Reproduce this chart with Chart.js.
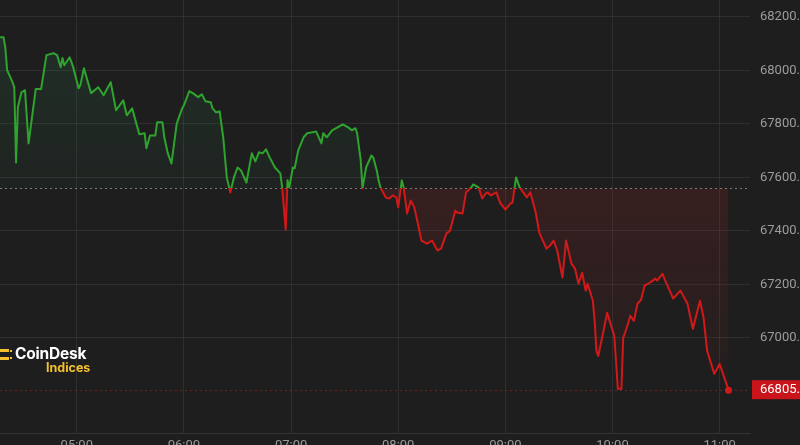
<!DOCTYPE html>
<html>
<head>
<meta charset="utf-8">
<script src="https://cdn.jsdelivr.net/npm/chart.js@4"></script>
<style>
  html, body { margin: 0; padding: 0; background: #1e1e1e; overflow: hidden; }
  #wrap { position: relative; width: 800px; height: 445px; }
  canvas { display: block; }
  .logo { position: absolute; left: 0; top: 344px; font-family: "Inter", "Liberation Sans", sans-serif; font-weight: 700; }
  .logo .icon { position: absolute; left: 0; top: 3px; width: 13px; height: 16px; }
  .logo .icon i { position: absolute; background: #f4c02f; display: block; }
  .logo .name { position: absolute; left: 15px; top: 0; color: #fff; font-size: 15.5px; letter-spacing: -0.2px; white-space: nowrap; }
  .logo .sub { position: absolute; left: 46px; top: 16px; color: #f4c02f; font-size: 12.5px; white-space: nowrap; }
</style>
</head>
<body>
<div id="wrap">
  <canvas id="chart" width="800" height="445"></canvas>
  <div class="logo">
    <div class="icon">
      <i style="left:0;top:2px;width:9px;height:3px"></i>
      <i style="left:0;top:10px;width:9px;height:3px"></i>
      <i style="left:10px;top:3px;width:2px;height:2px"></i>
      <i style="left:10px;top:10px;width:2px;height:2px"></i>
    </div>
    <div class="name">CoinDesk</div>
    <div class="sub">Indices</div>
  </div>
</div>
<script>
// minutes since midnight
const times = [
  257, 259, 260, 261, 264, 265, 266, 267, 269, 271, 273, 277, 280, 283, 287, 289,
  291, 292, 293, 296, 298, 301, 302, 304, 308, 312, 315, 319, 322, 326, 328, 331,
  335, 338, 339, 341, 344, 345, 348, 349, 351, 353, 356, 359, 360, 363, 365, 368,
  370, 372, 375, 376, 378, 380, 382, 384, 386, 388, 390, 392, 395, 398, 400, 402,
  404, 406, 408, 411, 414, 415, 417, 418, 419, 421, 422, 424, 427, 429, 432, 434,
  437, 438, 440, 443, 446, 449, 452, 454, 456, 457, 459, 460, 462, 465, 466, 468,
  469, 470, 473, 475, 477, 479, 480, 482, 483, 485, 487, 489, 491, 493, 496, 499,
  501, 502, 504, 507, 509, 512, 513, 516, 518, 521, 522, 525, 527, 529, 530, 532,
  535, 537, 540, 543, 544, 546, 548, 550, 552, 554, 557, 559, 563, 565, 567, 569,
  572, 574, 577, 579, 581, 583, 585, 586, 589, 590, 591, 592, 595, 597, 601, 603,
  605, 606, 608, 610, 612, 614, 616, 618, 621, 624, 625, 628, 630, 634, 638, 642,
  645, 649, 651, 653, 657, 660, 665
];
const prices = [
  68124, 68124, 68083, 68001, 67956, 67937, 67656, 67862, 67918, 67926, 67727, 67930, 67930, 68057, 68064, 68057,
  68012, 68046, 68019, 68049, 68012, 67933, 67945, 68008, 67915, 67937, 67907, 67956, 67851, 67888, 67832, 67858,
  67761, 67765, 67709, 67757, 67757, 67806, 67806, 67750, 67690, 67652, 67802, 67858, 67870, 67922, 67915, 67900,
  67911, 67885, 67881, 67858, 67843, 67847, 67750, 67600, 67544, 67600, 67637, 67626, 67581, 67690, 67660, 67694,
  67690, 67705, 67675, 67637, 67615, 67563, 67405, 67589, 67563, 67637, 67634, 67701, 67750, 67765, 67769, 67772,
  67727, 67765, 67750, 67776, 67787, 67798, 67787, 67776, 67784, 67765, 67664, 67559, 67637, 67682, 67675, 67626,
  67589, 67563, 67525, 67521, 67533, 67525, 67488, 67589, 67563, 67465, 67514, 67488, 67428, 67364, 67353, 67364,
  67338, 67327, 67334, 67390, 67401, 67476, 67469, 67465, 67544, 67563, 67574, 67563, 67521, 67540, 67544, 67533,
  67544, 67506, 67480, 67503, 67506, 67600, 67563, 67544, 67525, 67544, 67469, 67394, 67334, 67345, 67364, 67327,
  67226, 67364, 67278, 67259, 67203, 67244, 67177, 67203, 67139, 67064, 66952, 66933, 67027, 67094, 67008, 66810,
  66810, 67001, 67038, 67083, 67064, 67128, 67143, 67196, 67207, 67222, 67214, 67240, 67207, 67147, 67177, 67128,
  67034, 67139, 67076, 66952, 66866, 66903, 66805
];
const openPrice = 67560;
const lastPrice = 66805;
const hourTicks = [300, 360, 420, 480, 540, 600, 660];
const priceTicks = [67000, 67200, 67400, 67600, 67800, 68000, 68200];

const GREEN = "#2ea32e";
const RED = "#d21818";
const GRID = "rgba(255,255,255,0.075)";

const pad = (n) => String(n).padStart(2, "0");

// no extra room around the plot for edge labels
const noPadding = (s) => {
  s.paddingTop = 0; s.paddingBottom = 0; s.paddingLeft = 0; s.paddingRight = 0;
};

// dotted reference lines + last price tag
const overlay = {
  id: "overlay",
  beforeDatasetsDraw(chart) {
    const { ctx, chartArea: a, scales } = chart;
    ctx.save();
    ctx.lineWidth = 1;
    ctx.setLineDash([2, 3]);
    let y = Math.round(scales.y.getPixelForValue(openPrice)) + 0.5;
    ctx.strokeStyle = "rgba(200,200,200,0.55)";
    ctx.beginPath(); ctx.moveTo(a.left, y); ctx.lineTo(a.right, y); ctx.stroke();
    y = Math.round(scales.y.getPixelForValue(lastPrice)) + 0.5;
    ctx.strokeStyle = "rgba(210,40,40,0.45)";
    ctx.beginPath(); ctx.moveTo(a.left, y); ctx.lineTo(a.right, y); ctx.stroke();
    ctx.restore();
  },
  afterDraw(chart) {
    const { ctx, chartArea: a, scales } = chart;
    const y = scales.y.getPixelForValue(lastPrice);
    ctx.save();
    ctx.fillStyle = "#c8141a";
    ctx.fillRect(a.right + 2, y - 10, chart.width - a.right, 19);
    ctx.fillStyle = "#ffffff";
    ctx.font = "13px Roboto, sans-serif";
    ctx.textBaseline = "middle";
    ctx.fillText(lastPrice.toFixed(2), a.right + 10, y);
    ctx.restore();
  }
};

const chart = new Chart(document.getElementById("chart"), {
  type: "line",
  data: {
    labels: times,
    datasets: [{
      data: times.map((t, i) => ({ x: t, y: prices[i] })),
      borderColor: GREEN,
      borderWidth: 2,
      tension: 0,
      borderJoinStyle: "round",
      pointRadius: (c) => (c.dataIndex === prices.length - 1 ? 3.5 : 0),
      pointBorderWidth: 0,
      pointBackgroundColor: RED,
      fill: { value: openPrice, above: "rgba(46,163,46,0.08)", below: "rgba(210,24,24,0.12)" }
    }]
  },
  options: {
    responsive: false,
    animation: false,
    events: [],
    layout: { padding: 0, autoPadding: false },
    plugins: { legend: { display: false }, tooltip: { enabled: false } },
    scales: {
      x: {
        type: "linear",
        min: 257,
        max: 677,
        afterBuildTicks: (s) => { s.ticks = hourTicks.map((v) => ({ value: v })); },
        afterFit: (s) => { s.height = 12; noPadding(s); },
        grid: { color: GRID, drawTicks: false },
        border: { display: true, color: "rgba(255,255,255,0.1)" },
        ticks: {
          color: "#9c9c9c",
          font: { family: "Roboto", size: 13 },
          padding: 5,
          maxRotation: 0,
          autoSkip: false,
          callback: (v) => pad(Math.floor(v / 60)) + ":" + pad(v % 60)
        }
      },
      y: {
        position: "right",
        min: 66645,
        max: 68263,
        afterBuildTicks: (s) => { s.ticks = priceTicks.map((v) => ({ value: v })); },
        afterFit: (s) => { s.width = 50; noPadding(s); },
        grid: { color: GRID, drawTicks: false },
        border: { display: false },
        ticks: {
          color: "#9c9c9c",
          font: { family: "Roboto", size: 13 },
          padding: 10,
          autoSkip: false,
          callback: (v) => v.toFixed(2)
        }
      }
    }
  },
  plugins: [overlay]
});

// colour the line and fill by side of the opening price
const a = chart.chartArea;
const c = chart.ctx;
const yBase = chart.scales.y.getPixelForValue(openPrice);
const yLast = chart.scales.y.getPixelForValue(lastPrice);
const stop = (yBase - a.top) / (a.bottom - a.top);

const lineGrad = c.createLinearGradient(0, a.top, 0, a.bottom);
lineGrad.addColorStop(0, GREEN);
lineGrad.addColorStop(stop, GREEN);
lineGrad.addColorStop(stop, RED);
lineGrad.addColorStop(1, RED);

const aboveGrad = c.createLinearGradient(0, a.top + 30, 0, yBase);
aboveGrad.addColorStop(0, "rgba(60,170,110,0.13)");
aboveGrad.addColorStop(1, "rgba(60,170,110,0.04)");

const belowGrad = c.createLinearGradient(0, yBase, 0, yLast);
belowGrad.addColorStop(0, "rgba(200,40,40,0.15)");
belowGrad.addColorStop(1, "rgba(200,40,40,0.03)");

const ds = chart.data.datasets[0];
ds.borderColor = lineGrad;
ds.fill = { value: openPrice, above: aboveGrad, below: belowGrad };
chart.update("none");
</script>
</body>
</html>
